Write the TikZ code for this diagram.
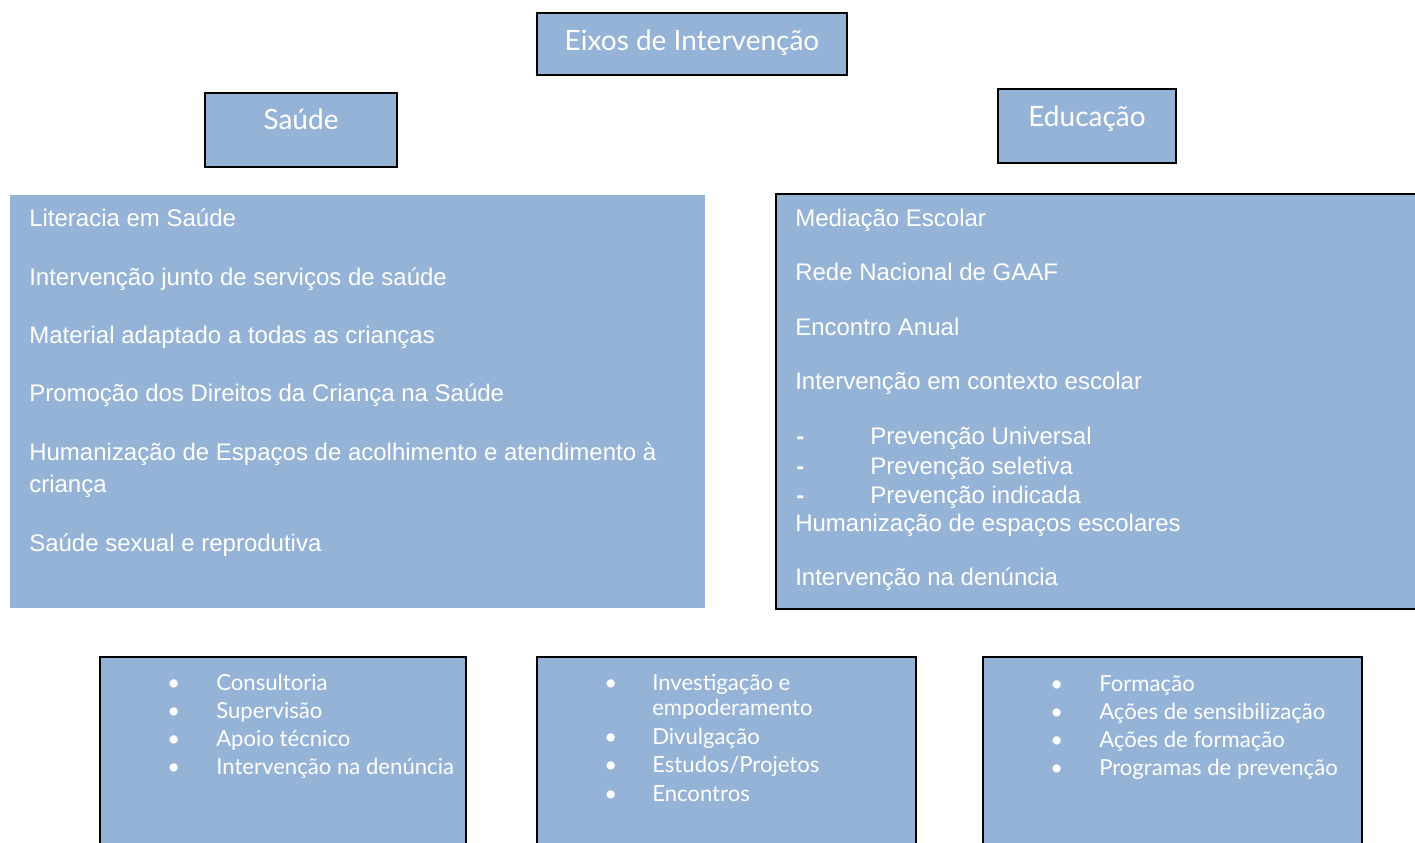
\documentclass[tikz,border=0pt]{standalone}
\usepackage{fontspec}
\setmainfont{Liberation Sans}
\newfontfamily\gill{Lato}
\definecolor{boxblue}{RGB}{149,179,215}
\begin{document}
\begin{tikzpicture}[x=0.75pt,y=-0.75pt,
  framedbox/.style={draw=black, line width=0.9pt, fill=boxblue, anchor=north west, inner sep=0pt, outer sep=0pt},
  plainbox/.style={fill=boxblue, anchor=north west, inner sep=0pt, outer sep=0pt},
  headtxt/.style={text=white, font=\gill\fontsize{21pt}{24pt}\selectfont, anchor=base, inner sep=0pt},
  listtxt/.style={text=white, font=\fontsize{18pt}{24pt}\selectfont, anchor=base west, inner sep=0pt},
  smalltxt/.style={text=white, font=\gill\fontsize{16.6pt}{19pt}\selectfont, anchor=base west, inner sep=0pt},
  dashtxt/.style={text=white, font=\bfseries\fontsize{18pt}{20pt}\selectfont, anchor=base west, inner sep=0pt}]
\useasboundingbox (0,0) rectangle (1415,843);
% heading boxes
\node[framedbox, minimum width=232.5pt, minimum height=46.5pt] (eixos) at (537,13) {};
\node[framedbox, minimum width=144pt, minimum height=55.5pt] (saude) at (205,93) {};
\node[framedbox, minimum width=133.5pt, minimum height=55.5pt] (educ) at (998,89) {};
\node[headtxt] (eixost) at (692,50) {Eixos de Intervenção};
\node[headtxt] (saudet) at (301,129) {Saúde};
\node[headtxt] (educt) at (1087,126) {Educação};
% large boxes
\node[plainbox, minimum width=521.25pt, minimum height=309.75pt] (slist) at (10,195) {};
\node[framedbox, minimum width=483.75pt, minimum height=311.25pt] (elist) at (776,194) {};
% left list
\node[listtxt] (s1) at (29,226) {Literacia em Saúde};
\node[listtxt] (s2) at (29,285) {Intervenção junto de serviços de saúde};
\node[listtxt] (s3) at (29,343) {Material adaptado a todas as crianças};
\node[listtxt] (s4) at (29,401) {Promoção dos Direitos da Criança na Saúde};
\node[listtxt] (s5) at (29,460) {Humanização de Espaços de acolhimento e atendimento à};
\node[listtxt] (s5b) at (29,492) {criança};
\node[listtxt] (s6) at (29,551) {Saúde sexual e reprodutiva};
% right list
\node[listtxt] (e1) at (795,226) {Mediação Escolar};
\node[listtxt] (e2) at (795,280) {Rede Nacional de GAAF};
\node[listtxt] (e3) at (795,335) {Encontro Anual};
\node[listtxt] (e4) at (795,389) {Intervenção em contexto escolar};
\node[dashtxt] (d1) at (796,444) {-};
\node[dashtxt] (d2) at (796,474) {-};
\node[dashtxt] (d3) at (796,503) {-};
\node[listtxt] (e5) at (870,444) {Prevenção Universal};
\node[listtxt] (e6) at (870,474) {Prevenção seletiva};
\node[listtxt] (e7) at (870,503) {Prevenção indicada};
\node[listtxt] (e8) at (795,531) {Humanização de espaços escolares};
\node[listtxt] (e9) at (795,585) {Intervenção na denúncia};
% bottom boxes
\node[framedbox, minimum width=274.5pt, minimum height=150pt] (b1) at (100,657) {};
\node[framedbox, minimum width=284.25pt, minimum height=150pt] (b2) at (537,657) {};
\node[framedbox, minimum width=284.25pt, minimum height=150pt] (b3) at (983,657) {};
% box 1
\foreach \y/\t [count=\i] in {690/Consultoria, 718/Supervisão, 746/Apoio técnico, 774/Intervenção na denúncia}{
  \node[smalltxt] (b1d\i) at (167,\y) {\textbullet};
  \node[smalltxt] (b1t\i) at (216,\y) {\t};
}
% box 2
\node[smalltxt] (b2d1) at (604,690) {\textbullet};
\node[smalltxt] (b2t1) at (652,690) {Investigação e};
\node[smalltxt] (b2t1b) at (652,715) {empoderamento};
\foreach \y/\t [count=\i from 2] in {744/Divulgação, 772/{Estudos/Projetos}, 801/Encontros}{
  \node[smalltxt] (b2d\i) at (604,\y) {\textbullet};
  \node[smalltxt] (b2t\i) at (652,\y) {\t};
}
% box 3
\foreach \y/\t [count=\i] in {691/Formação, 719/Ações de sensibilização, 747/Ações de formação, 775/Programas de prevenção}{
  \node[smalltxt] (b3d\i) at (1050,\y) {\textbullet};
  \node[smalltxt] (b3t\i) at (1099,\y) {\t};
}
\end{tikzpicture}
\end{document}
